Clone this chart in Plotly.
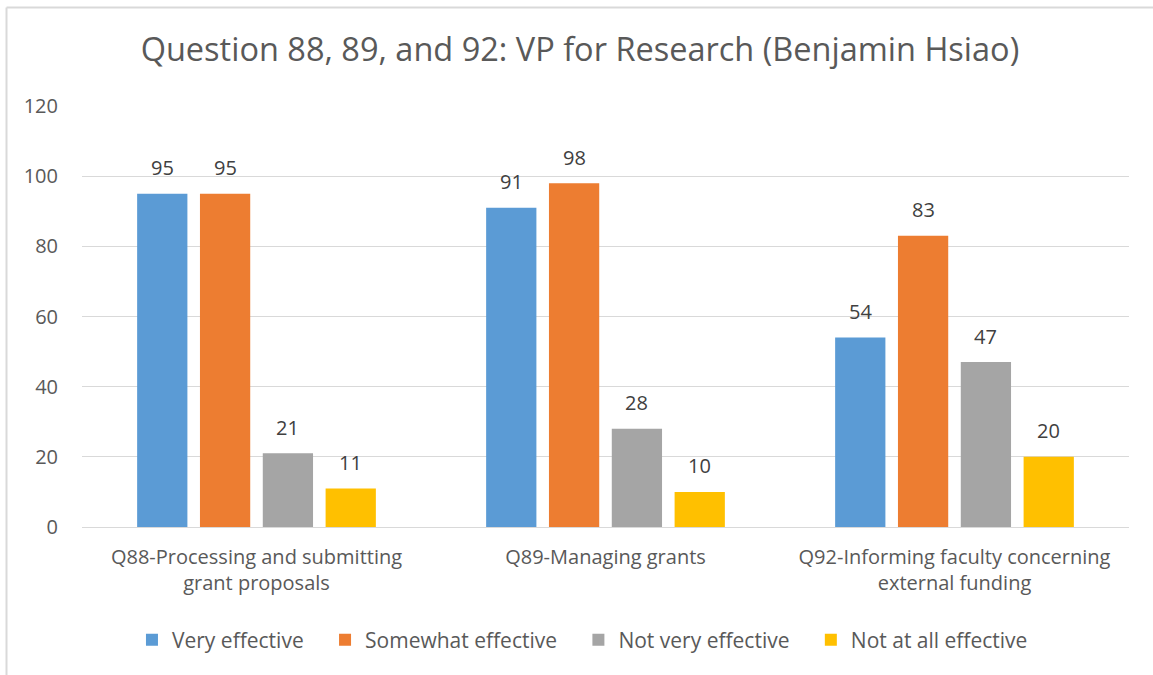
import plotly.graph_objects as go

# Survey responses per question
categories = [
    "Q88-Processing and submitting<br>grant proposals",
    "Q89-Managing grants",
    "Q92-Informing faculty concerning<br>external funding",
]
very_effective = [95, 91, 54]
somewhat_effective = [95, 98, 83]
not_very_effective = [21, 28, 47]
not_at_all_effective = [11, 10, 20]

series = [
    ("Very effective", very_effective, "#5B9BD5"),
    ("Somewhat effective", somewhat_effective, "#ED7D31"),
    ("Not very effective", not_very_effective, "#A5A5A5"),
    ("Not at all effective", not_at_all_effective, "#FFC000"),
]

FONT = "Open Sans"
BARGAP = 0.28

# plot-area geometry in pixels
L, R, T, B = 82, 24, 106, 148
W, H = 1153 - L - R, 675 - T - B

def px_x(x):
    return (x - L) / W

def px_y(y):
    return (675 - B - y) / H

fig = go.Figure()
n = len(series)
slot = (W / len(categories)) * (1 - BARGAP) / n  # pixel pitch of one bar in a group
annotations = []
for i, (name, vals, color) in enumerate(series):
    # extra spacing after each legend entry except the last
    label = name + ("\u00a0" * 3 if i < n - 1 else "")
    fig.add_trace(go.Bar(
        x=categories, y=vals, name=label,
        marker=dict(color=color, line=dict(width=0)),
        cliponaxis=False,
    ))
    for cat, v in zip(categories, vals):
        annotations.append(dict(
            x=cat, y=v, xref="x", yref="y", text=str(v), showarrow=False,
            xshift=(i - (n - 1) / 2) * slot, yshift=26, yanchor="middle",
            font=dict(family=FONT, size=20, color="#404040"),
        ))

fig.update_layout(
    width=1153, height=675,
    margin=dict(l=L, r=R, t=T, b=B, autoexpand=False),
    paper_bgcolor="white", plot_bgcolor="white",
    barmode="group", bargap=BARGAP, bargroupgap=0.2,
    title=dict(text="Question 88, 89, and 92: VP for Research (Benjamin Hsiao)",
               x=0.503, xanchor="center", y=1 - 50 / 675, yanchor="middle",
               font=dict(family=FONT, size=32.5, color="#595959")),
    font=dict(family=FONT, color="#595959"),
    xaxis=dict(showline=False, showgrid=False, zeroline=False,
               tickfont=dict(family=FONT, size=20, color="#595959"),
               ticks="outside", ticklen=0, ticklabelstandoff=12),
    yaxis=dict(range=[0, 120], dtick=20, showgrid=True, gridcolor="#D9D9D9",
               gridwidth=1.3, zeroline=True, zerolinecolor="#D9D9D9",
               zerolinewidth=1.3, showline=False,
               tickfont=dict(family=FONT, size=20, color="#595959"),
               ticks="outside", ticklen=0, ticklabelstandoff=19),
    legend=dict(orientation="h", x=0.478, xanchor="center", y=px_y(640),
                yanchor="middle", font=dict(family=FONT, size=21, color="#595959"),
                itemsizing="constant", traceorder="normal"),
    showlegend=True,
    annotations=annotations,
    shapes=[
        dict(type="line", xref="paper", yref="paper",
             x0=px_x(6.5), x1=px_x(1160), y0=px_y(7.5), y1=px_y(7.5),
             line=dict(color="#D9D9D9", width=2)),
        dict(type="line", xref="paper", yref="paper",
             x0=px_x(6.5), x1=px_x(6.5), y0=px_y(7.5), y1=px_y(680),
             line=dict(color="#D9D9D9", width=2)),
    ],
)

fig.write_html("out.html")
